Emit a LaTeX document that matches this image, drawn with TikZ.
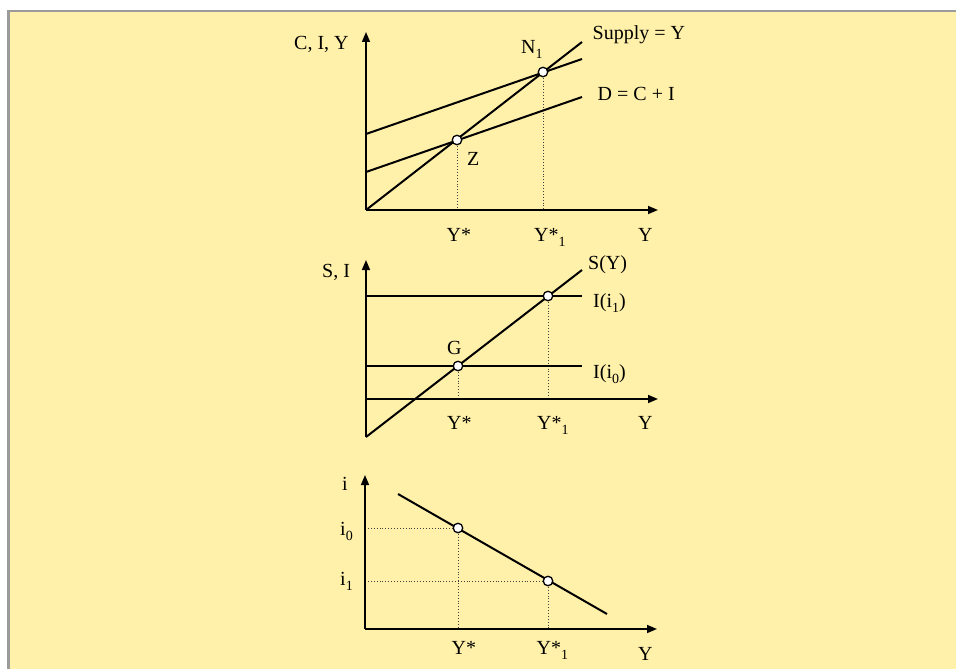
\documentclass[tikz,border=0pt]{standalone}
\usepackage{fontspec}
\setmainfont{Liberation Serif}
\usetikzlibrary{arrows.meta}
\definecolor{bgyellow}{RGB}{255,241,170}
\definecolor{framegray}{RGB}{155,155,155}
\newcommand\lsub[1]{\raisebox{-5pt}{\fontsize{14}{14}\selectfont #1}}
\tikzset{
  lbl/.style={anchor=base west, inner sep=0pt, font=\fontsize{20}{24}\selectfont},
  axis/.style={line width=1.6pt, -{Triangle[length=10pt,width=8pt]}},
  curve/.style={line width=2pt},
  guide/.style={line width=0.9pt, dotted, draw=black!75},
  pt/.style={circle, draw=black, fill=white, line width=1.3pt, minimum size=9.5pt, inner sep=0pt},
}
\begin{document}
\begin{tikzpicture}[x=1pt, y=-1pt]
\useasboundingbox (0,0) rectangle (956,669);
\fill[white] (0,0) rectangle (956,669);
\fill[bgyellow] (8.5,11) rectangle (956,669);
\draw[framegray, line width=2.6pt] (8.6,669) -- (8.6,11.2) -- (956,11.2);

% ---------- top chart ----------
\coordinate (o1) at (366,210);
\coordinate (yt1) at (366,32);
\coordinate (xt1) at (658,210);
\coordinate (s1e) at (582,42);
\coordinate (dh0) at (366,134);
\coordinate (dh1) at (582,59);
\coordinate (dl0) at (366,172);
\coordinate (dl1) at (582,97);
\coordinate (zc) at (457,140);
\coordinate (nc) at (543,72);
\coordinate (zf) at (457,210);
\coordinate (nf) at (543,210);
\draw[guide] (zc) -- (zf);
\draw[guide] (nc) -- (nf);
\draw[curve] (o1) -- (s1e);
\draw[curve] (dh0) -- (dh1);
\draw[curve] (dl0) -- (dl1);
\draw[axis] (o1) -- (yt1);
\draw[axis] (o1) -- (xt1);
\node[pt] (Z) at (zc) {};
\node[pt] (N) at (nc) {};
\node[lbl] (l1) at (294,49.5) {C, I, Y};
\node[lbl] (l2) at (592.5,40) {Supply = Y};
\node[lbl] (l3) at (521,54) {N\lsub{1}};
\node[lbl] (l4) at (597.5,100) {D = C + I};
\node[lbl] (l5) at (467,165) {Z};
\node[lbl] (l6) at (446.5,241.5) {Y*};
\node[lbl] (l7) at (534,241.5) {Y*\lsub{1}};
\node[lbl] (l8) at (638,241.5) {Y};

% ---------- middle chart ----------
\coordinate (o2) at (366,437);
\coordinate (yt2) at (366,260);
\coordinate (xa2) at (366,399);
\coordinate (xt2) at (658,399);
\coordinate (s2e) at (582,270);
\coordinate (i10) at (366,296);
\coordinate (i11) at (582,296);
\coordinate (i00) at (366,366);
\coordinate (i01) at (582,366);
\coordinate (gc) at (458,366);
\coordinate (pc) at (548,296);
\coordinate (gf) at (458,399);
\coordinate (pf) at (548,399);
\draw[guide] (gc) -- (gf);
\draw[guide] (pc) -- (pf);
\draw[curve] (o2) -- (s2e);
\draw[curve] (i10) -- (i11);
\draw[curve] (i00) -- (i01);
\draw[axis] (o2) -- (yt2);
\draw[axis] (xa2) -- (xt2);
\node[pt] (G) at (gc) {};
\node[pt] (P) at (pc) {};
\node[lbl] (m1) at (322,277) {S, I};
\node[lbl] (m2) at (588,269) {S(Y)};
\node[lbl] (m3) at (593,307) {I(i\lsub{1})};
\node[lbl] (m4) at (593,378) {I(i\lsub{0})};
\node[lbl] (m5) at (447,354) {G};
\node[lbl] (m6) at (447,429.5) {Y*};
\node[lbl] (m7) at (537,429.5) {Y*\lsub{1}};
\node[lbl] (m8) at (638,429.5) {Y};

% ---------- bottom chart ----------
\coordinate (o3) at (365,629);
\coordinate (yt3) at (365,475);
\coordinate (xt3) at (657,629);
\coordinate (c0) at (398,494);
\coordinate (c1) at (607,614);
\coordinate (ac) at (458,528);
\coordinate (bc) at (548,581);
\coordinate (ay) at (365,528);
\coordinate (by) at (365,581);
\coordinate (af) at (458,629);
\coordinate (bf) at (548,629);
\draw[guide] (ay) -- (ac);
\draw[guide] (by) -- (bc);
\draw[guide] (ac) -- (af);
\draw[guide] (bc) -- (bf);
\draw[curve] (c0) -- (c1);
\draw[axis] (o3) -- (yt3);
\draw[axis] (o3) -- (xt3);
\node[pt] (A) at (ac) {};
\node[pt] (B) at (bc) {};
\node[lbl] (b1) at (342,490.5) {i};
\node[lbl] (b2) at (340,535.5) {i\lsub{0}};
\node[lbl] (b3) at (340,585) {i\lsub{1}};
\node[lbl] (b4) at (451.5,654) {Y*};
\node[lbl] (b5) at (536.5,654) {Y*\lsub{1}};
\node[lbl] (b6) at (638,660) {Y};
\end{tikzpicture}
\end{document}
